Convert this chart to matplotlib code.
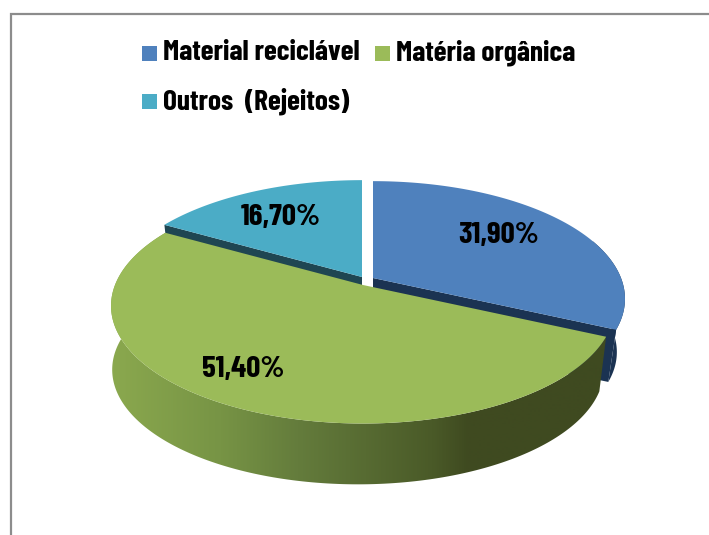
import numpy as np
import matplotlib
matplotlib.use("Agg")
import matplotlib.pyplot as plt
from matplotlib.colors import LinearSegmentedColormap
from matplotlib.patches import Polygon, Rectangle

categories = ["Material reciclável", "Matéria orgânica", "Outros  (Rejeitos)"]
values = [31.9, 51.4, 16.7]
top_colors = ["#4f81bd", "#9bbb59", "#4bacc6"]
dark_colors = ["#1b3352", "#3f4a20", "#1f4652"]

plt.rcParams["font.family"] = ["Barlow Condensed", "DejaVu Sans"]

# the axes are laid out in image pixels, y going down
fig = plt.figure(figsize=(7.09, 5.35), dpi=100)
ax = fig.add_axes([0, 0, 1, 1])
ax.set_xlim(0, 709)
ax.set_ylim(535, 0)
ax.axis("off")

# frame, only top and left are visible in the picture
ax.plot([709, 11, 11], [14, 14, 535], color="#8c8c8c", lw=1.6, solid_joinstyle="miter")

# perspective settings of the pie
a, b, k = 248, 114, 0.177
centers = [(373, 278), (363, 285), (362, 277)]
label_pos = [(499, 236), (243, 370), (281, 218)]

# bottom rim of the blue and the green slice: a, b, k, x, y
blue_bottom = (240, 110, 0.177, 373, 332)
green_bottom = (238, 107.5, 0.25, 358, 341)


def project(theta, cx, cy, pa=a, pb=b, pk=k):
    t = np.radians(theta)
    w = 1 + pk * np.cos(t)
    return cx + pa * np.sin(t) / w, cy - pb * np.cos(t) / w


def top_face(start, end, cx, cy):
    th = np.linspace(start, end, 200)
    x, y = project(th, cx, cy)
    return np.r_[cx, x], np.r_[cy, y]


def rim(start, end, cx, cy, bottom):
    th = np.linspace(start, end, 200)
    xt, yt = project(th, cx, cy)
    xb, yb = project(th, bottom[3], bottom[4], bottom[0], bottom[1], bottom[2])
    return np.r_[xt, xb[::-1]], np.r_[yt, yb[::-1]]


def cut_face(theta, cx, cy, bottom):
    x1, y1 = project(theta, cx, cy)
    x2, y2 = project(theta, bottom[3], bottom[4], bottom[0], bottom[1], bottom[2])
    return [cx, x1, x2, cx], [cy, y1, y2, cy + 55]


edges = np.r_[0, np.cumsum(values)] / sum(values) * 360

# blue and cyan are behind the green slice
cx, cy = centers[0]
ax.fill(*rim(edges[0] + 70, edges[1], cx, cy, blue_bottom), color=dark_colors[0], lw=0)
ax.fill(*cut_face(edges[1], cx, cy, blue_bottom), color=dark_colors[0], lw=0)

cx, cy = centers[2]
cyan_bottom = (240, 110, 0.177, cx, cy + 55)
ax.fill(*cut_face(edges[2], cx, cy, cyan_bottom), color=dark_colors[2], lw=0)
ax.fill(*cut_face(edges[3], cx, cy, cyan_bottom), color=dark_colors[2], lw=0)

ax.fill(*top_face(edges[0], edges[1], *centers[0]), color=top_colors[0], lw=0)
ax.fill(*top_face(edges[2], edges[3], *centers[2]), color=top_colors[2], lw=0)

# green rim with the light to dark shading, clipped to the rim shape
shade = LinearSegmentedColormap.from_list(
    "rim", [(0, "#8aa84e"), (0.3, "#779445"), (0.52, "#647c3c"), (0.9, "#4a5a28"), (1, "#3f4a20")])
cx, cy = centers[1]
xs = np.arange(100, 621)
grad = np.clip((xs - 113) / 356, 0, 1)[None, :]
im = ax.imshow(grad, cmap=shade, vmin=0, vmax=1, extent=(100, 620, 500, 200), aspect="auto", zorder=1.5)
im.set_clip_path(Polygon(np.c_[rim(edges[1], edges[2], cx, cy, green_bottom)], transform=ax.transData))
ax.set_xlim(0, 709)
ax.set_ylim(535, 0)
ax.fill(*top_face(edges[1], edges[2], cx, cy), color=top_colors[1], lw=0, zorder=1.6)

# value labels
for v, (x, y) in zip(values, label_pos):
    ax.text(x, y, f"{v:.2f}%".replace(".", ","), ha="center", va="center",
            fontsize=22.5, fontweight="bold", color="black", zorder=3)

# legend
legend_pos = [(142, 46), (375, 46), (142, 94)]
for name, col, (x, y) in zip(categories, top_colors, legend_pos):
    ax.add_patch(Rectangle((x, y), 15, 15, color=col, lw=0))
    ax.text(x + 21, y + 7, name, ha="left", va="center",
            fontsize=21.2, fontweight="bold", color="black", zorder=3)

fig.savefig("out.png", dpi=100)
